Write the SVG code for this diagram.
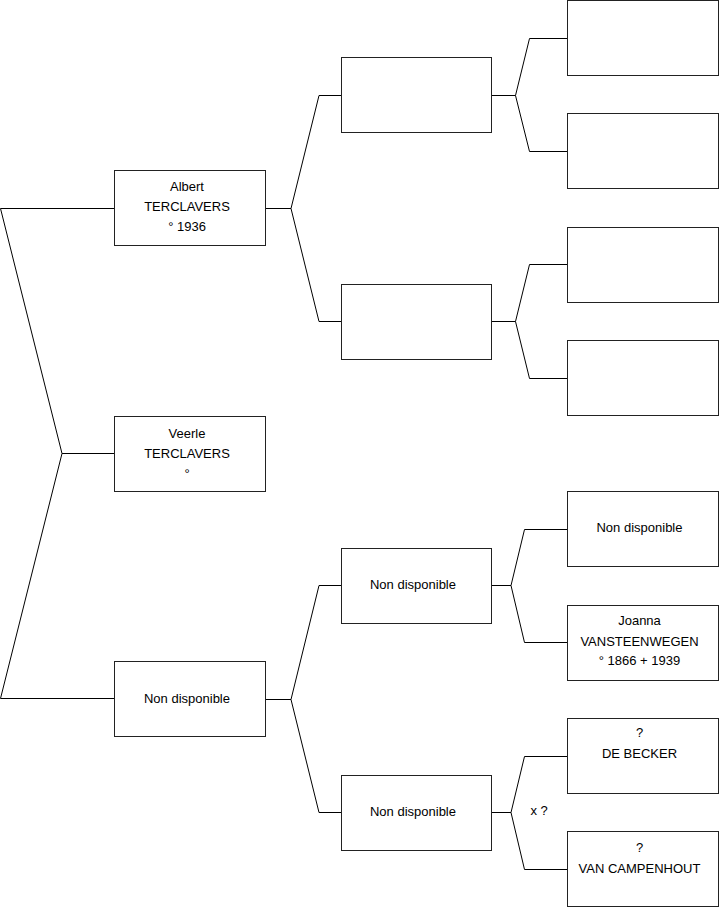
<svg xmlns="http://www.w3.org/2000/svg" width="719" height="908" viewBox="0 0 719 908">
<style>
.box{fill:#fff;stroke:#222;stroke-width:1}
.ln{fill:none;stroke:#000;stroke-width:1}
text{font-family:"Liberation Sans",Arial,sans-serif;font-size:13px;fill:#000;text-anchor:middle}
</style>
<rect x="0" y="0" width="719" height="908" fill="#fff"/>
<g id="connectors">
<path class="ln" d="M114.5,208.5 H0.5 L62,453.5 L0.5,698.5 H114.5 M62,453.5 H114.5"/>
<path class="ln" d="M265.5,208.5 H291 L319,95.5 H341.5 M291,208.5 L319,321.5 H341.5"/>
<path class="ln" d="M265.5,699.5 H291 L319,585.5 H341.5 M291,699.5 L319,812.5 H341.5"/>
<path class="ln" d="M491.5,95.5 H515.5 L529.5,38.5 H567.5 M515.5,95.5 L529.5,151.5 H567.5"/>
<path class="ln" d="M491.5,321.5 H515.5 L529.5,264.5 H567.5 M515.5,321.5 L529.5,378.5 H567.5"/>
<path class="ln" d="M491.5,585.5 H511 L524.5,529.5 H567.5 M511,585.5 L524.5,642.5 H567.5"/>
<path class="ln" d="M491.5,812.5 H511 L524.5,756.5 H567.5 M511,812.5 L524.5,869.5 H567.5"/>
<text x="530.5" y="815" style="text-anchor:start">x ?</text>
</g>
<g id="n-veerle">
<rect class="box" x="114.5" y="416.5" width="151" height="75"/>
<text x="187" y="437.5">Veerle</text>
<text x="187" y="458">TERCLAVERS</text>
<text x="187" y="477.5">°</text>
</g>
<g id="n-albert">
<rect class="box" x="114.5" y="170.5" width="151" height="75"/>
<text x="187" y="191">Albert</text>
<text x="187" y="211">TERCLAVERS</text>
<text x="187" y="231">° 1936</text>
</g>
<g id="n-mother">
<rect class="box" x="114.5" y="661.5" width="151" height="75"/>
<text x="187" y="702.5">Non disponible</text>
</g>
<g id="n-g3a"><rect class="box" x="341.5" y="57.5" width="150" height="75"/></g>
<g id="n-g3b"><rect class="box" x="341.5" y="284.5" width="150" height="75"/></g>
<g id="n-g3c">
<rect class="box" x="341.5" y="548.5" width="150" height="75"/>
<text x="413" y="589">Non disponible</text>
</g>
<g id="n-g3d">
<rect class="box" x="341.5" y="775.5" width="150" height="75"/>
<text x="413" y="816">Non disponible</text>
</g>
<g id="n-g4a"><rect class="box" x="567.5" y="0.5" width="151" height="75"/></g>
<g id="n-g4b"><rect class="box" x="567.5" y="113.5" width="151" height="75"/></g>
<g id="n-g4c"><rect class="box" x="567.5" y="227.5" width="151" height="75"/></g>
<g id="n-g4d"><rect class="box" x="567.5" y="340.5" width="151" height="75"/></g>
<g id="n-g4e">
<rect class="box" x="567.5" y="491.5" width="151" height="75"/>
<text x="639.5" y="532">Non disponible</text>
</g>
<g id="n-joanna">
<rect class="box" x="567.5" y="605.5" width="151" height="75"/>
<text x="639.5" y="625">Joanna</text>
<text x="639.5" y="645.5">VANSTEENWEGEN</text>
<text x="639.5" y="665">° 1866 + 1939</text>
</g>
<g id="n-debecker">
<rect class="box" x="567.5" y="718.5" width="151" height="75"/>
<text x="639.5" y="737">?</text>
<text x="639.5" y="757.5">DE BECKER</text>
</g>
<g id="n-vancampenhout">
<rect class="box" x="567.5" y="831.5" width="151" height="75"/>
<text x="639.5" y="851.5">?</text>
<text x="639.5" y="872.5">VAN CAMPENHOUT</text>
</g>
</svg>
